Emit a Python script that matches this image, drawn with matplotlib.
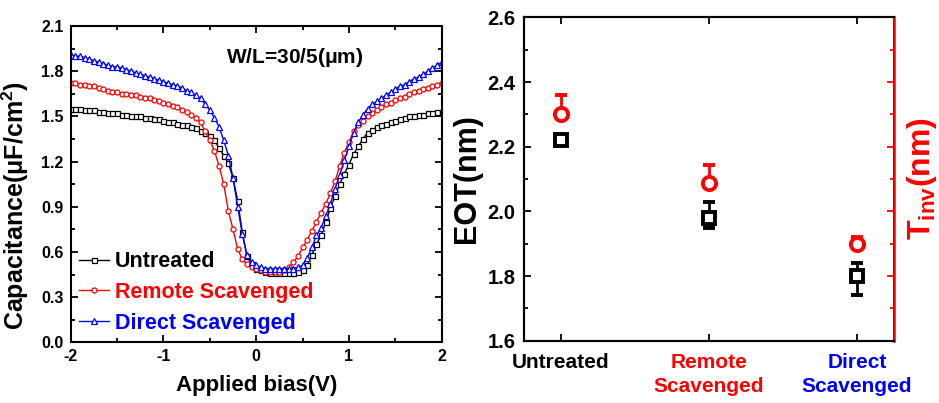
import numpy as np
import matplotlib
matplotlib.use("Agg")
import matplotlib.pyplot as plt
from matplotlib.ticker import MultipleLocator

plt.rcParams['font.family'] = ['Liberation Sans', 'DejaVu Sans']
plt.rcParams['font.weight'] = 'bold'
plt.rcParams['mathtext.default'] = 'bf'

# ---------------- data ----------------
bias = np.round(np.linspace(-2.0, 2.0, 81), 2)

cap_untreated = [
    1.55, 1.55, 1.55, 1.54, 1.54, 1.54, 1.53, 1.53, 1.52, 1.52,
    1.52, 1.51, 1.51, 1.50, 1.50, 1.50, 1.49, 1.49, 1.48, 1.48,
    1.47, 1.46, 1.46, 1.45, 1.44, 1.44, 1.43, 1.42, 1.40, 1.39,
    1.37, 1.34, 1.29, 1.24, 1.19, 1.09, 0.94, 0.73, 0.57, 0.52,
    0.49, 0.48, 0.47, 0.46, 0.46, 0.46, 0.46, 0.46, 0.46, 0.47,
    0.48, 0.51, 0.58, 0.65, 0.71, 0.80, 0.89, 0.97, 1.05, 1.12,
    1.18, 1.25, 1.30, 1.35, 1.39, 1.41, 1.43, 1.44, 1.45, 1.46,
    1.47, 1.48, 1.49, 1.50, 1.50, 1.51, 1.51, 1.52, 1.52, 1.53,
    1.53]

cap_remote = [
    1.72, 1.72, 1.71, 1.71, 1.70, 1.70, 1.69, 1.68, 1.67, 1.66,
    1.66, 1.65, 1.65, 1.64, 1.64, 1.63, 1.62, 1.62, 1.61, 1.60,
    1.59, 1.58, 1.57, 1.56, 1.54, 1.53, 1.51, 1.49, 1.46, 1.40,
    1.34, 1.27, 1.17, 1.05, 0.87, 0.75, 0.62, 0.55, 0.52, 0.50,
    0.49, 0.48, 0.47, 0.47, 0.47, 0.47, 0.48, 0.50, 0.53, 0.57,
    0.63, 0.68, 0.74, 0.80, 0.86, 0.92, 0.99, 1.07, 1.17, 1.26,
    1.33, 1.40, 1.44, 1.47, 1.50, 1.52, 1.54, 1.56, 1.58, 1.59,
    1.61, 1.62, 1.63, 1.65, 1.66, 1.67, 1.68, 1.69, 1.70, 1.71,
    1.72]

cap_direct = [
    1.91, 1.90, 1.90, 1.89, 1.88, 1.87, 1.86, 1.85, 1.84, 1.83,
    1.83, 1.82, 1.81, 1.80, 1.79, 1.78, 1.77, 1.76, 1.75, 1.74,
    1.73, 1.72, 1.71, 1.70, 1.69, 1.67, 1.66, 1.64, 1.62, 1.58,
    1.54, 1.49, 1.43, 1.34, 1.24, 1.09, 0.90, 0.72, 0.58, 0.53,
    0.51, 0.50, 0.49, 0.49, 0.49, 0.49, 0.49, 0.49, 0.49, 0.50,
    0.51, 0.56, 0.63, 0.71, 0.76, 0.84, 0.92, 1.02, 1.11, 1.21,
    1.30, 1.39, 1.46, 1.51, 1.55, 1.58, 1.60, 1.62, 1.64, 1.66,
    1.68, 1.70, 1.71, 1.73, 1.75, 1.76, 1.78, 1.80, 1.82, 1.84,
    1.86]

series_labels = ["Untreated", "Remote Scavenged", "Direct Scavenged"]
series_colors = ["#000000", "#ff0000", "#0000ff"]
series_markers = ["s", "o", "^"]

categories = ["Untreated", "Remote\nScavenged", "Direct\nScavenged"]
eot = [2.22, 1.98, 1.80]
eot_err_low = [0.01, 0.03, 0.06]
eot_err_high = [0.01, 0.05, 0.04]
tinv = [2.30, 2.087, 1.90]
tinv_err_low = [0.0, 0.0, 0.0]
tinv_err_high = [0.06, 0.055, 0.02]

# ---------------- figure ----------------
fig = plt.figure(figsize=(9.39, 4.03), dpi=100)

ax1 = fig.add_axes([0.0753, 0.1506, 0.3951, 0.7849])
for y, lab, c, m in zip([cap_untreated, cap_remote, cap_direct],
                        series_labels, series_colors, series_markers):
    ax1.plot(bias, y, color=c, marker=m, ms=3.6 if m != '^' else 4.2,
             mfc='white', mec=c, mew=0.9, lw=1.0, label=lab)

ax1.set_xlim(-2, 2)
ax1.set_ylim(0.0, 2.1)
ax1.xaxis.set_major_locator(MultipleLocator(1))
ax1.xaxis.set_minor_locator(MultipleLocator(0.5))
ax1.yaxis.set_major_locator(MultipleLocator(0.3))
ax1.yaxis.set_minor_locator(MultipleLocator(0.15))
ax1.yaxis.set_major_formatter(plt.FuncFormatter(lambda v, p: f"{v:.1f}"))
ax1.xaxis.set_major_formatter(plt.FuncFormatter(lambda v, p: f"{int(round(v))}"))
ax1.tick_params(which='both', direction='in', top=True, right=True,
                width=1.3, labelsize=11.5)
ax1.tick_params(which='major', length=5, pad=5)
ax1.tick_params(which='minor', length=3)
for s in ax1.spines.values():
    s.set_linewidth(1.5)
ax1.set_xlabel("Applied bias(V)", fontsize=16, fontweight='bold', labelpad=8)
ax1.set_ylabel(r"Capacitance($\mathregular{\mu}$F/cm$^\mathregular{2}$)",
               fontsize=18, fontweight='bold')
ax1.yaxis.set_label_coords(-0.108, 0.434)
ax1.text(0.603, 0.899, r"W/L=30/5($\mathregular{\mu}$m)", transform=ax1.transAxes,
         ha='center', va='center', fontsize=15, fontweight='bold')
leg = ax1.legend(loc='lower left', bbox_to_anchor=(0.0, 0.0), frameon=False,
                 fontsize=15.5, handlelength=1.4, handletextpad=0.25,
                 labelspacing=0.45, borderaxespad=0.2, borderpad=0.2)
for t, c in zip(leg.get_texts(), series_colors):
    t.set_color(c)

# ---------------- right panel ----------------
ax2 = fig.add_axes([0.558, 0.1546, 0.394, 0.8024])
xpos = np.arange(len(categories))
ax2.errorbar(xpos, eot, yerr=[eot_err_low, eot_err_high], fmt='s', color='black',
             mfc='white', mec='black', ms=8.5, mew=2.8, elinewidth=2.0,
             capsize=4.5, capthick=2.0, zorder=3)
ax3 = ax2.twinx()
ax3.errorbar(xpos, tinv, yerr=[tinv_err_low, tinv_err_high], fmt='o', color='#ff0000',
             mfc='white', mec='#ff0000', ms=9.5, mew=2.8, elinewidth=2.0,
             capsize=4.5, capthick=2.0, zorder=3)

for ax in (ax2, ax3):
    ax.set_ylim(1.6, 2.6)
    ax.set_xlim(-0.25, 2.25)
    ax.yaxis.set_major_locator(MultipleLocator(0.2))
    ax.yaxis.set_minor_locator(MultipleLocator(0.1))

ax2.set_xticks(xpos)
ax2.set_xticklabels(categories, fontsize=15, fontweight='bold', linespacing=1.3)
for t, c in zip(ax2.get_xticklabels(), series_colors):
    t.set_color(c)
ax2.yaxis.set_major_formatter(plt.FuncFormatter(lambda v, p: f"{v:.1f}"))
ax2.tick_params(which='both', direction='in', top=True, right=False, width=1.3)
ax2.tick_params(axis='y', labelsize=14.5)
ax2.tick_params(which='major', length=5, pad=6)
ax2.tick_params(axis='x', pad=9)
ax2.tick_params(which='minor', length=3)
ax2.set_ylabel("EOT(nm)", fontsize=22, fontweight='bold', labelpad=4)

ax3.tick_params(which='both', direction='in', colors='#ff0000', width=1.3,
                labelright=False)
ax3.tick_params(which='major', length=5)
ax3.tick_params(which='minor', length=3)
ax3.set_ylabel(r"T$_\mathregular{inv}$(nm)", fontsize=23, fontweight='bold',
               color='#ff0000', labelpad=8)
for s in ax2.spines.values():
    s.set_linewidth(1.5)
for s in ax3.spines.values():
    s.set_linewidth(1.5)
ax3.spines['right'].set_color('#ff0000')
ax3.spines['right'].set_linewidth(1.8)

fig.savefig("out.png", dpi=100)
